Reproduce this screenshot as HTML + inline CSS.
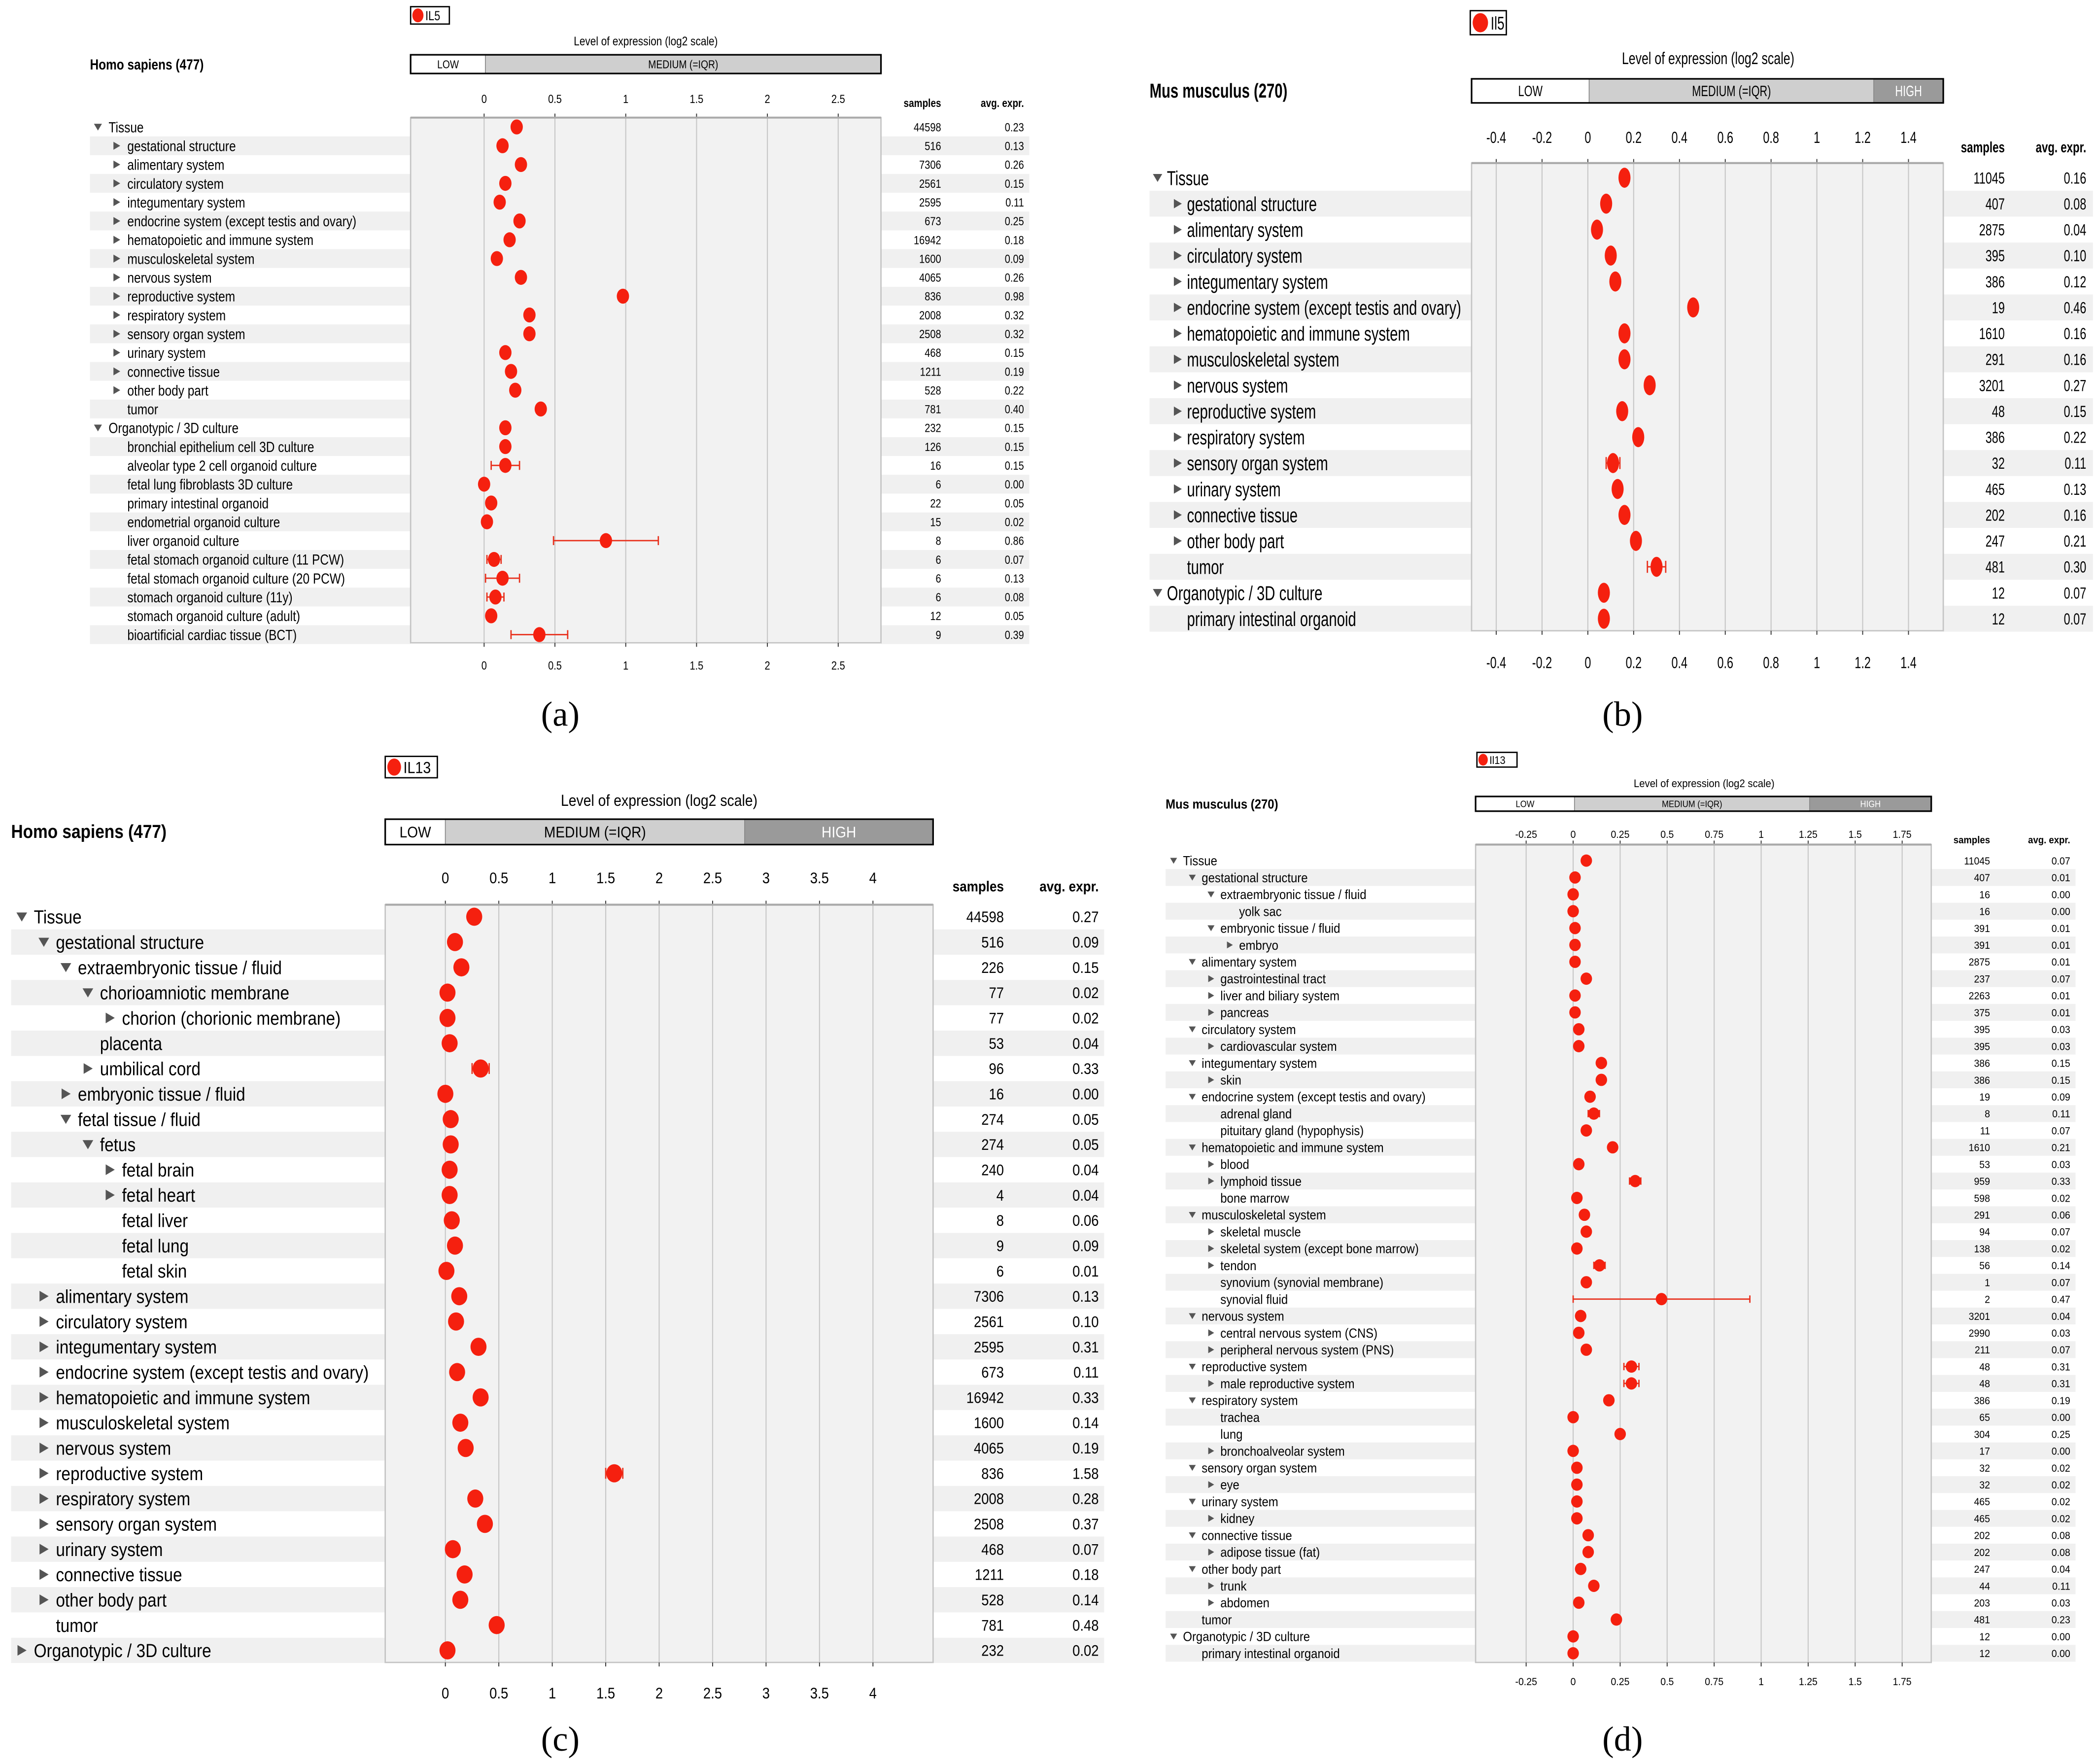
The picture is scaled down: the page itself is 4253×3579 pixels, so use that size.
<!DOCTYPE html>
<html><head><meta charset="utf-8"><style>
html,body{margin:0;padding:0;background:#fff;}
svg{display:block;}
</style></head><body>
<svg id="fig" width="4253" height="3579" viewBox="0 0 1568 1320" xmlns="http://www.w3.org/2000/svg" font-family="'Liberation Sans Narrow','Liberation Sans',sans-serif"></svg>
<script>
// ---------- Panel (a) data: Homo sapiens IL5 ----------
const labelsA=["Tissue","gestational structure","alimentary system","circulatory system","integumentary system","endocrine system (except testis and ovary)","hematopoietic and immune system","musculoskeletal system","nervous system","reproductive system","respiratory system","sensory organ system","urinary system","connective tissue","other body part","tumor","Organotypic / 3D culture","bronchial epithelium cell 3D culture","alveolar type 2 cell organoid culture","fetal lung fibroblasts 3D culture","primary intestinal organoid","endometrial organoid culture","liver organoid culture","fetal stomach organoid culture (11 PCW)","fetal stomach organoid culture (20 PCW)","stomach organoid culture (11y)","stomach organoid culture (adult)","bioartificial cardiac tissue (BCT)"];
const levelsA=[0,1,1,1,1,1,1,1,1,1,1,1,1,1,1,1,0,1,1,1,1,1,1,1,1,1,1,1];
const togglesA=["d","r","r","r","r","r","r","r","r","r","r","r","r","r","r","","d","","","","","","","","","","",""];
const valuesA=[0.23,0.13,0.26,0.15,0.11,0.25,0.18,0.09,0.26,0.98,0.32,0.32,0.15,0.19,0.22,0.40,0.15,0.15,0.15,0.00,0.05,0.02,0.86,0.07,0.13,0.08,0.05,0.39];
const errA=[0,0,0,0,0,0,0,0,0,0,0,0,0,0,0,0,0,0,0.1,0,0,0,0.37,0.05,0.12,0.06,0,0.2];
const samplesA=["44598","516","7306","2561","2595","673","16942","1600","4065","836","2008","2508","468","1211","528","781","232","126","16","6","22","15","8","6","6","6","12","9"];
const avgA=["0.23","0.13","0.26","0.15","0.11","0.25","0.18","0.09","0.26","0.98","0.32","0.32","0.15","0.19","0.22","0.40","0.15","0.15","0.15","0.00","0.05","0.02","0.86","0.07","0.13","0.08","0.05","0.39"];
const ticksA=[0,0.5,1,1.5,2,2.5];
const tickLabelsA=["0","0.5","1","1.5","2","2.5"];

// ---------- Panel (b) data: Mus musculus Il5 ----------
const labelsB=["Tissue","gestational structure","alimentary system","circulatory system","integumentary system","endocrine system (except testis and ovary)","hematopoietic and immune system","musculoskeletal system","nervous system","reproductive system","respiratory system","sensory organ system","urinary system","connective tissue","other body part","tumor","Organotypic / 3D culture","primary intestinal organoid"];
const levelsB=[0,1,1,1,1,1,1,1,1,1,1,1,1,1,1,1,0,1];
const togglesB=["d","r","r","r","r","r","r","r","r","r","r","r","r","r","r","","d",""];
const valuesB=[0.16,0.08,0.04,0.10,0.12,0.46,0.16,0.16,0.27,0.15,0.22,0.11,0.13,0.16,0.21,0.30,0.07,0.07];
const errB=[0,0,0,0,0,0,0,0,0,0,0,0.03,0,0,0,0.04,0,0];
const samplesB=["11045","407","2875","395","386","19","1610","291","3201","48","386","32","465","202","247","481","12","12"];
const avgB=["0.16","0.08","0.04","0.10","0.12","0.46","0.16","0.16","0.27","0.15","0.22","0.11","0.13","0.16","0.21","0.30","0.07","0.07"];
const ticksB=[-0.4,-0.2,0,0.2,0.4,0.6,0.8,1,1.2,1.4];
const tickLabelsB=["-0.4","-0.2","0","0.2","0.4","0.6","0.8","1","1.2","1.4"];

// ---------- Panel (c) data: Homo sapiens IL13 ----------
const labelsC=["Tissue","gestational structure","extraembryonic tissue / fluid","chorioamniotic membrane","chorion (chorionic membrane)","placenta","umbilical cord","embryonic tissue / fluid","fetal tissue / fluid","fetus","fetal brain","fetal heart","fetal liver","fetal lung","fetal skin","alimentary system","circulatory system","integumentary system","endocrine system (except testis and ovary)","hematopoietic and immune system","musculoskeletal system","nervous system","reproductive system","respiratory system","sensory organ system","urinary system","connective tissue","other body part","tumor","Organotypic / 3D culture"];
const levelsC=[0,1,2,3,4,3,3,2,2,3,4,4,4,4,4,1,1,1,1,1,1,1,1,1,1,1,1,1,1,0];
const togglesC=["d","d","d","d","r","","r","r","d","d","r","r","","","","r","r","r","r","r","r","r","r","r","r","r","r","r","","r"];
const valuesC=[0.27,0.09,0.15,0.02,0.02,0.04,0.33,0.00,0.05,0.05,0.04,0.04,0.06,0.09,0.01,0.13,0.10,0.31,0.11,0.33,0.14,0.19,1.58,0.28,0.37,0.07,0.18,0.14,0.48,0.02];
const errC=[0,0,0,0,0,0,0.08,0,0,0,0,0,0,0,0,0,0,0,0,0,0,0,0.08,0,0,0,0,0,0,0];
const samplesC=["44598","516","226","77","77","53","96","16","274","274","240","4","8","9","6","7306","2561","2595","673","16942","1600","4065","836","2008","2508","468","1211","528","781","232"];
const avgC=["0.27","0.09","0.15","0.02","0.02","0.04","0.33","0.00","0.05","0.05","0.04","0.04","0.06","0.09","0.01","0.13","0.10","0.31","0.11","0.33","0.14","0.19","1.58","0.28","0.37","0.07","0.18","0.14","0.48","0.02"];
const ticksC=[0,0.5,1,1.5,2,2.5,3,3.5,4];
const tickLabelsC=["0","0.5","1","1.5","2","2.5","3","3.5","4"];

// ---------- Panel (d) data: Mus musculus Il13 ----------
const labelsD=["Tissue","gestational structure","extraembryonic tissue / fluid","yolk sac","embryonic tissue / fluid","embryo","alimentary system","gastrointestinal tract","liver and biliary system","pancreas","circulatory system","cardiovascular system","integumentary system","skin","endocrine system (except testis and ovary)","adrenal gland","pituitary gland (hypophysis)","hematopoietic and immune system","blood","lymphoid tissue","bone marrow","musculoskeletal system","skeletal muscle","skeletal system (except bone marrow)","tendon","synovium (synovial membrane)","synovial fluid","nervous system","central nervous system (CNS)","peripheral nervous system (PNS)","reproductive system","male reproductive system","respiratory system","trachea","lung","bronchoalveolar system","sensory organ system","eye","urinary system","kidney","connective tissue","adipose tissue (fat)","other body part","trunk","abdomen","tumor","Organotypic / 3D culture","primary intestinal organoid"];
const levelsD=[0,1,2,3,2,3,1,2,2,2,1,2,1,2,1,2,2,1,2,2,2,1,2,2,2,2,2,1,2,2,1,2,1,2,2,2,1,2,1,2,1,2,1,2,2,1,0,1];
const togglesD=["d","d","d","","d","r","d","r","r","r","d","r","d","r","d","","","d","r","r","","d","r","r","r","","","d","r","r","d","r","d","","","r","d","r","d","r","d","r","d","r","r","","d",""];
const valuesD=[0.07,0.01,0.00,0.00,0.01,0.01,0.01,0.07,0.01,0.01,0.03,0.03,0.15,0.15,0.09,0.11,0.07,0.21,0.03,0.33,0.02,0.06,0.07,0.02,0.14,0.07,0.47,0.04,0.03,0.07,0.31,0.31,0.19,0.00,0.25,0.00,0.02,0.02,0.02,0.02,0.08,0.08,0.04,0.11,0.03,0.23,0.00,0.00];
const errD=[0,0,0,0,0,0,0,0,0,0,0,0,0,0,0,0.03,0,0,0,0.03,0,0,0,0,0.03,0,0.47,0,0,0,0.04,0.04,0,0,0,0,0,0,0,0,0,0,0,0,0,0,0,0];
const samplesD=["11045","407","16","16","391","391","2875","237","2263","375","395","395","386","386","19","8","11","1610","53","959","598","291","94","138","56","1","2","3201","2990","211","48","48","386","65","304","17","32","32","465","465","202","202","247","44","203","481","12","12"];
const avgD=["0.07","0.01","0.00","0.00","0.01","0.01","0.01","0.07","0.01","0.01","0.03","0.03","0.15","0.15","0.09","0.11","0.07","0.21","0.03","0.33","0.02","0.06","0.07","0.02","0.14","0.07","0.47","0.04","0.03","0.07","0.31","0.31","0.19","0.00","0.25","0.00","0.02","0.02","0.02","0.02","0.08","0.08","0.04","0.11","0.03","0.23","0.00","0.00"];
const ticksD=[-0.25,0,0.25,0.5,0.75,1,1.25,1.5,1.75];
const tickLabelsD=["-0.25","0","0.25","0.5","0.75","1","1.25","1.5","1.75"];

const NS="http://www.w3.org/2000/svg";
const svg=document.getElementById('fig');
function mk(tag,attrs,parent){const e=document.createElementNS(NS,tag);for(const k in attrs)e.setAttribute(k,attrs[k]);(parent||svg).appendChild(e);return e;}
function txt(parent,x,y,s,fs,anchor,sx,fill,weight){
  const t=mk('text',{x:0,y:0,'font-size':fs,'text-anchor':anchor||'start',fill:fill||'#000',transform:`translate(${x},${y}) scale(${sx},1)`},parent);
  if(weight)t.setAttribute('font-weight',weight);
  t.textContent=s;return t;}

function panel(cfg,labels,levels,toggles,values,errs,samples,avgs,ticks,tickLabels){
  const g=mk('g',{});
  
  
  const sx=cfg.sx;
  const X=v=>cfg.zeroX+v*cfg.unit;
  const Y=i=>cfg.row0+i*cfg.dy;
  // legend
  const lg=mk('g',{},g);
  
  
  mk('rect',{x:cfg.legend.x,y:cfg.legend.y,width:cfg.legend.w,height:cfg.legend.h,fill:'#fff',stroke:'#000','stroke-width':1},lg);
  mk('ellipse',{cx:cfg.legend.x+cfg.legend.h*0.42,cy:cfg.legend.y+cfg.legend.h/2,rx:cfg.legend.h*0.32,ry:cfg.legend.h*0.4,fill:'#f5200f'},lg);
  txt(lg,cfg.legend.x+cfg.legend.h*0.85,cfg.legend.y+cfg.legend.h*0.78,cfg.legend.text,cfg.legend.h*0.75,'start',sx);
  // title
  const tt=txt(g,cfg.titleX,cfg.titleY,'Level of expression (log2 scale)',cfg.fs*0.85,'middle',sx);
  
  
  // species
  const sp=txt(g,cfg.spX,cfg.spY,cfg.species,cfg.fs*1.0,'start',sx,'#000','bold');
  
  
  // level bar
  const bg=mk('g',{},g);
  
  
  const fills=['#ffffff','#cfcfcf','#9a9a9a'];const tcol=['#000','#000','#fff'];
  cfg.segs.forEach((s,k)=>{
    mk('rect',{x:s[0],y:cfg.barY,width:s[1]-s[0],height:cfg.barH,fill:fills[k],stroke:'#888','stroke-width':0.6},bg);
    txt(bg,(s[0]+s[1])/2,cfg.barY+cfg.barH*0.72,s[2],cfg.barH*0.62,'middle',sx,tcol[k]);
  });
  mk('rect',{x:cfg.segs[0][0],y:cfg.barY,width:cfg.segs[cfg.segs.length-1][1]-cfg.segs[0][0],height:cfg.barH,fill:'none',stroke:'#000','stroke-width':1.2},bg);
  // row shading
  const yt=cfg.plotTop, yb=cfg.plotBot;
  labels.forEach((l,i)=>{
    if(i%2===1){
      mk('rect',{x:cfg.labelLeft,y:Y(i)-cfg.dy/2,width:cfg.x0-cfg.labelLeft,height:cfg.dy,fill:'#f0f0f0'},g);
      mk('rect',{x:cfg.x1,y:Y(i)-cfg.dy/2,width:cfg.colRight-cfg.x1,height:cfg.dy,fill:'#f0f0f0'},g);
    }
  });
  // plot area
  const pa=mk('rect',{x:cfg.x0,y:yt,width:cfg.x1-cfg.x0,height:yb-yt,fill:'#f2f2f2',stroke:'#c4c4c4','stroke-width':1},g);
  
  
  const ax=mk('g',{},g);
  
  
  ticks.forEach((t,k)=>{
    mk('line',{x1:X(t),x2:X(t),y1:yt,y2:yb,stroke:'#c8c8c8','stroke-width':0.8},ax);
    mk('line',{x1:X(t),x2:X(t),y1:yt-3,y2:yt,stroke:'#333','stroke-width':0.7},ax);
    mk('line',{x1:X(t),x2:X(t),y1:yb,y2:yb+3,stroke:'#333','stroke-width':0.7},ax);
    txt(ax,X(t),cfg.tickY,tickLabels[k],cfg.nfs,'middle',sx);
    txt(ax,X(t),cfg.botTickY,tickLabels[k],cfg.nfs,'middle',sx);
  });
  mk('line',{x1:cfg.x0,x2:cfg.x1,y1:yt,y2:yt,stroke:'#aaa','stroke-width':1.5},ax);
  // column headers
  txt(g,cfg.sampX,cfg.hdrY,'samples',cfg.nfs*0.95,'end',sx,'#000','bold');
  txt(g,cfg.avgX,cfg.hdrY,'avg. expr.',cfg.nfs*0.95,'end',sx,'#000','bold');
  // rows
  labels.forEach((l,i)=>{
    const y=Y(i);
    const rg=mk('g',{},g);
    
    
    const tx=cfg.textX+levels[i]*cfg.indent;
    const trx=tx-cfg.triOff, s=cfg.tri;
    if(toggles[i]==='d') mk('polygon',{points:`${trx-s},${y-s*0.8} ${trx+s},${y-s*0.8} ${trx},${y+s*0.9}`,fill:'#555'},rg);
    if(toggles[i]==='r') mk('polygon',{points:`${trx-s*0.8},${y-s} ${trx-s*0.8},${y+s} ${trx+s*0.9},${y}`,fill:'#555'},rg);
    txt(rg,tx,y+cfg.fs*0.36,l,cfg.fs,'start',sx);
    txt(rg,cfg.sampX,y+cfg.nfs*0.36,samples[i],cfg.nfs,'end',sx);
    txt(rg,cfg.avgX,y+cfg.nfs*0.36,avgs[i],cfg.nfs,'end',sx);
    if(errs[i]>0){
      mk('line',{x1:X(values[i]-errs[i]),x2:X(values[i]+errs[i]),y1:y,y2:y,stroke:'#e8301c','stroke-width':1},rg);
      [values[i]-errs[i],values[i]+errs[i]].forEach(v=>mk('line',{x1:X(v),x2:X(v),y1:y-cfg.ry*0.6,y2:y+cfg.ry*0.6,stroke:'#e8301c','stroke-width':1},rg));
    }
    const d=mk('ellipse',{cx:X(values[i]),cy:y,rx:cfg.rx,ry:cfg.ry,fill:'#f5200f'},rg);
    
    
  });
  // panel letter
  const pl=mk('text',{x:cfg.letter[0],y:cfg.letter[1],'font-size':26,'text-anchor':'middle','font-family':"'Liberation Serif',serif"},g);
  
  
  pl.textContent=cfg.letter[2];
}

panel({name:'panel-a',sx:0.82,zeroX:362,unit:106,x0:307,x1:659,plotTop:88,plotBot:481,row0:95,dy:14.07,
  labelLeft:67,textX:81,indent:14,triOff:8,tri:3,fs:11,nfs:9,sampX:704,avgX:766,hdrY:80,colRight:770,
  rx:4.6,ry:5.6,tickY:77,botTickY:501,legend:{x:307,y:5,w:29,h:13,text:'IL5'},titleX:483,titleY:34,
  spX:67,spY:52,species:'Homo sapiens (477)',barY:41,barH:14,segs:[[307,363,'LOW'],[363,659,'MEDIUM (=IQR)']],letter:[419,543,'(a)']},
  labelsA,levelsA,togglesA,valuesA,errA,samplesA,avgA,ticksA,tickLabelsA);

panel({name:'panel-b',sx:0.72,zeroX:1188,unit:171.4,x0:1101,x1:1454,plotTop:122,plotBot:472,row0:133,dy:19.41,
  labelLeft:860,textX:873,indent:15,triOff:7,tri:3.5,fs:15,nfs:12,sampX:1500,avgX:1561,hdrY:114,colRight:1566,
  rx:4.5,ry:7.5,tickY:107,botTickY:500,legend:{x:1100,y:8,w:27,h:18,text:'Il5'},titleX:1278,titleY:48,
  spX:860,spY:73,species:'Mus musculus (270)',barY:59,barH:18,segs:[[1101,1189,'LOW'],[1189,1402,'MEDIUM (=IQR)'],[1402,1454,'HIGH']],letter:[1214,543,'(b)']},
  labelsB,levelsB,togglesB,valuesB,errB,samplesB,avgB,ticksB,tickLabelsB);

panel({name:'panel-c',sx:0.88,zeroX:333,unit:80,x0:288,x1:698,plotTop:677,plotBot:1244,row0:686,dy:18.93,
  labelLeft:8,textX:25,indent:16.5,triOff:9,tri:4,fs:14,nfs:11.5,sampX:751,avgX:822,hdrY:667,colRight:826,
  rx:6,ry:6.8,tickY:661,botTickY:1271,legend:{x:288,y:566,w:39,h:16,text:'IL13'},titleX:493,titleY:603,
  spX:8,spY:627,species:'Homo sapiens (477)',barY:613,barH:19,segs:[[288,333,'LOW'],[333,557,'MEDIUM (=IQR)'],[557,698,'HIGH']],letter:[419,1310,'(c)']},
  labelsC,levelsC,togglesC,valuesC,errC,samplesC,avgC,ticksC,tickLabelsC);

panel({name:'panel-d',sx:0.9,zeroX:1177,unit:140.7,x0:1104,x1:1445,plotTop:632,plotBot:1244,row0:644,dy:12.62,
  labelLeft:872,textX:885,indent:14,triOff:7,tri:2.6,fs:9.8,nfs:8,sampX:1489,avgX:1549,hdrY:631,colRight:1553,
  rx:4.3,ry:4.6,tickY:627,botTickY:1261,legend:{x:1105,y:563,w:30,h:11,text:'Il13'},titleX:1275,titleY:589,
  spX:872,spY:605,species:'Mus musculus (270)',barY:596,barH:11,segs:[[1104,1178,'LOW'],[1178,1354,'MEDIUM (=IQR)'],[1354,1445,'HIGH']],letter:[1214,1310,'(d)']},
  labelsD,levelsD,togglesD,valuesD,errD,samplesD,avgD,ticksD,tickLabelsD);
</script>
</body></html>
